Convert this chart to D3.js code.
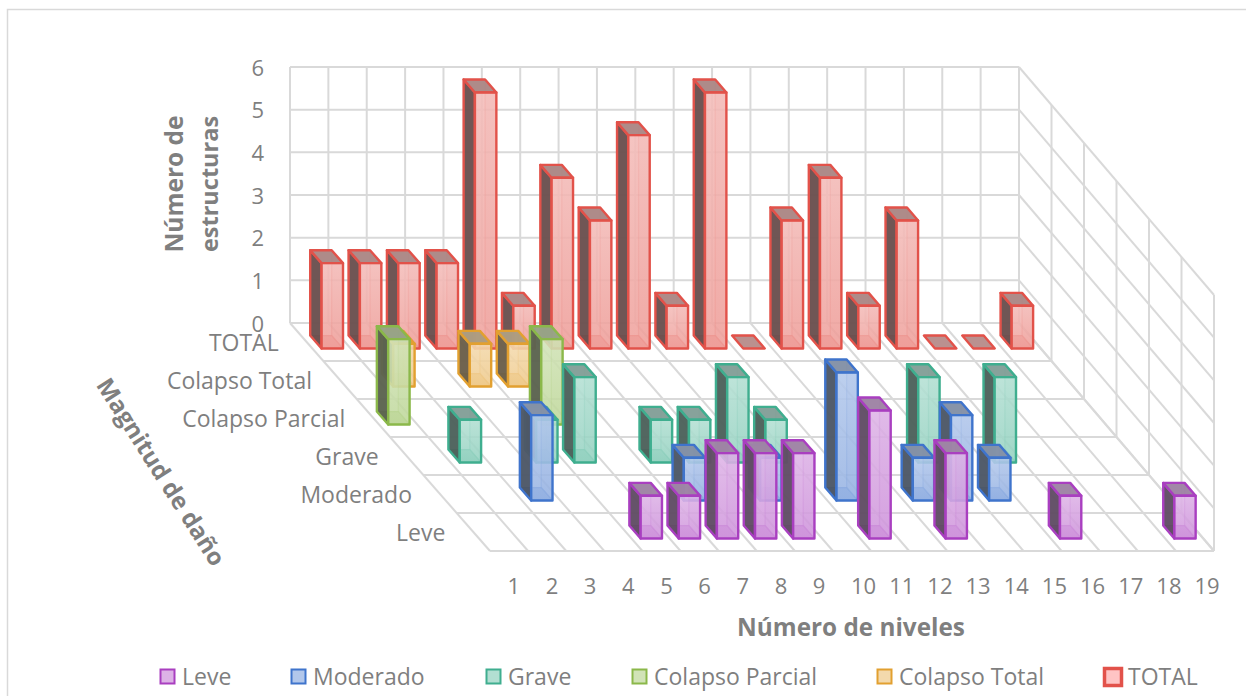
<!DOCTYPE html>
<html><head><meta charset="utf-8">
<script src="https://cdnjs.cloudflare.com/ajax/libs/d3/7.8.5/d3.min.js"></script>
<style>html,body{margin:0;padding:0;background:#fff;overflow:hidden}svg{display:block}
text{font-family:"Open Sans",sans-serif;fill:#7f7f7f}</style></head><body><div id="c"></div>
<script>
const categories=["1","2","3","4","5","6","7","8","9","10","11","12","13","14","15","16","17","18","19"];
const levels=["Leve","Moderado","Grave","Colapso Parcial","Colapso Total","TOTAL"];
const yTicks=[0,1,2,3,4,5,6];
const leve=[null,null,null,null,1,1,2,2,2,null,3,null,2,null,null,1,null,null,1];
const moderado=[null,null,2,null,null,null,1,null,1,null,3,null,1,2,1,null,null,null,null];
const grave=[null,1,null,1,2,null,1,1,2,1,null,null,null,2,null,2,null,null,null];
const colapsoParcial=[2,null,null,null,2,null,null,null,null,null,null,null,null,null,null,null,null,null,null];
const colapsoTotal=[null,1,null,1,1,null,null,null,null,null,null,null,null,null,null,null,null,null,null];
const total=[2,2,2,2,6,1,4,3,5,1,6,0,3,4,1,3,0,0,1];
const seriesValues=[leve,moderado,grave,colapsoParcial,colapsoTotal,total];
const seriesColors=["#A93FC0","#3F74CC","#3FAE8F","#8BB84A","#E2A030","#E2524A"];
const legendX=[160,291,486,632,877,1103];

const W=1246,H=696;
const svg=d3.select("#c").append("svg").attr("width",W).attr("height",H);
const defs=svg.append("defs");

const depthX=d3.scaleLinear().domain([0,6]).range([490,290]);
const depthY=d3.scaleLinear().domain([0,6]).range([551,323]);
const depthW=d3.scaleLinear().domain([0,6]).range([724,729]);
const valueH=d3.scaleLinear().domain([0,6]).range([0,256]);
const P=(c,d,v)=>[depthX(d)+depthW(d)*c/19, depthY(d)-valueH(v)];
const poly=pts=>pts.map(p=>p.join(",")).join(" ");
const GRID="#d9d9d9";

svg.append("rect").attr("x",7.5).attr("y",9.5).attr("width",1260).attr("height",700)
  .attr("fill","#fff").attr("stroke",GRID).attr("stroke-width",1.5);

const grid=svg.append("g").attr("fill","none").attr("stroke",GRID).attr("stroke-width",2);
const seg=(a,b)=>grid.append("line").attr("x1",a[0]).attr("y1",a[1]).attr("x2",b[0]).attr("y2",b[1]);
yTicks.forEach(v=>{seg(P(0,6,v),P(19,6,v));seg(P(19,6,v),P(19,0,v));});
d3.range(20).forEach(c=>{seg(P(c,6,0),P(c,6,6));seg(P(c,6,0),P(c,0,0));});
d3.range(7).forEach(d=>{seg(P(0,d,0),P(19,d,0));seg(P(19,d,0),P(19,d,6));});

const gapX=0.24,barW=0.56,dFront=0.33,dBack=0.67;
const mix=(a,b,t)=>d3.interpolateRgb(a,b)(t);

seriesColors.forEach((c,s)=>{
  const g=defs.append("linearGradient").attr("id","f"+s).attr("x1",0).attr("y1",0).attr("x2",0).attr("y2",1);
  g.append("stop").attr("offset",0).attr("stop-color",mix(c,"#fff",.6));
  g.append("stop").attr("offset",1).attr("stop-color",mix(c,"#fff",.42));
});

const bars=svg.append("g");
d3.range(5,-1,-1).forEach(s=>{
  const c=seriesColors[s];
  seriesValues[s].forEach((v,i)=>{
    if(v===null)return;
    const x0=i+gapX,x1=x0+barW,df=s+dFront,db=s+dBack;
    const fbl=P(x0,df,0),fbr=P(x1,df,0),ftl=P(x0,df,v),ftr=P(x1,df,v);
    const bbl=P(x0,db,0),bbr=P(x1,db,0),btl=P(x0,db,v),btr=P(x1,db,v);
    const g=bars.append("g").attr("stroke-linejoin","round");
    if(v===0){
      g.append("polygon").attr("points",poly([btl,btr,ftr,ftl]))
        .attr("fill",mix(c,"#aaa",.72)).attr("stroke",c).attr("stroke-width",2.4);
      return;
    }
    const faint=mix(c,"#fff",.15);
    g.append("polygon").attr("points",poly([bbl,bbr,btr,btl])).attr("fill",mix(c,"#fff",.72)).attr("fill-opacity",.55);
    g.append("polygon").attr("points",poly([bbl,bbr,fbr,fbl])).attr("fill",mix(c,"#fff",.25)).attr("fill-opacity",.65);
    g.append("polygon").attr("points",poly([bbr,fbr,ftr,btr])).attr("fill",mix(c,"#fff",.55)).attr("fill-opacity",.5);
    g.append("polyline").attr("points",poly([bbl,bbr,fbr])).attr("fill","none").attr("stroke",faint).attr("stroke-opacity",.65).attr("stroke-width",1.3);
    g.append("line").attr("x1",bbr[0]).attr("y1",bbr[1]).attr("x2",btr[0]).attr("y2",btr[1]).attr("stroke",faint).attr("stroke-opacity",.4).attr("stroke-width",1.3);
    g.append("polygon").attr("points",poly([fbl,bbl,btl,ftl])).attr("fill",mix(c,"#4a4a4a",.82)).attr("fill-opacity",.93).attr("stroke",c).attr("stroke-width",2.4);
    g.append("polygon").attr("points",poly([ftl,ftr,btr,btl])).attr("fill",mix(c,"#999",.75)).attr("fill-opacity",.96).attr("stroke",c).attr("stroke-width",2.4);
    g.append("polygon").attr("points",poly([fbl,fbr,ftr,ftl])).attr("fill",`url(#f${s})`).attr("fill-opacity",.76).attr("stroke",c).attr("stroke-width",2.4);
  });
});

// value axis
const yAxisScale=d3.scaleLinear().domain([0,6]).range([depthY(6),depthY(6)-256]);
const ya=svg.append("g").attr("transform","translate(264,1)").call(d3.axisLeft(yAxisScale).tickValues(yTicks).tickFormat(d3.format("d")).tickSize(0).tickPadding(0));
ya.select(".domain").remove();
ya.selectAll("text").style("font-size","22px").style("font-family",'"Open Sans",sans-serif').style("fill","#7f7f7f");

// category axis
const xAxisScale=d3.scalePoint().domain(categories).range([507,1194]);
const xa=svg.append("g").attr("transform","translate(0,578)").call(d3.axisBottom(xAxisScale).tickSize(0).tickPadding(0));
xa.select(".domain").remove();
xa.selectAll("text").attr("text-anchor","start").style("font-size","22px").style("font-family",'"Open Sans",sans-serif').style("fill","#7f7f7f");

// series axis
levels.forEach((t,r)=>{
  svg.append("text").attr("x",depthX(r+.5)-28).attr("y",depthY(r+.5)+1).attr("dy","0.35em")
    .attr("text-anchor","end").style("font-size","23px").text(t);
});

// titles
const bold=(sel,size)=>sel.attr("text-anchor","middle").attr("dy","0.35em").style("font-size",size+"px").style("font-weight",700);
bold(svg.append("text").attr("transform","translate(174,184) rotate(-90)"),24.5).text("Número de");
bold(svg.append("text").attr("transform","translate(210,184) rotate(-90)"),23.5).text("estructuras");
bold(svg.append("text").attr("transform","translate(161,472) rotate(57.5)"),24).text("Magnitud de daño");
bold(svg.append("text").attr("x",851).attr("y",627),24.3).text("Número de niveles");

// legend
levels.forEach((t,s)=>{
  const big=s===5,c=seriesColors[s];
  const sz=big?17:14;
  svg.append("rect").attr("x",legendX[s]+(big?1.5:.5)).attr("y",big?668.5:669.5).attr("width",sz).attr("height",sz)
    .attr("fill",big?"#ffc4c4":mix(c,"#fff",.6)).attr("stroke",c).attr("stroke-width",big?3.5:2);
  svg.append("text").attr("x",legendX[s]+(big?25:22)).attr("y",677).attr("dy","0.35em").style("font-size","23px").text(t);
});
</script></body></html>
